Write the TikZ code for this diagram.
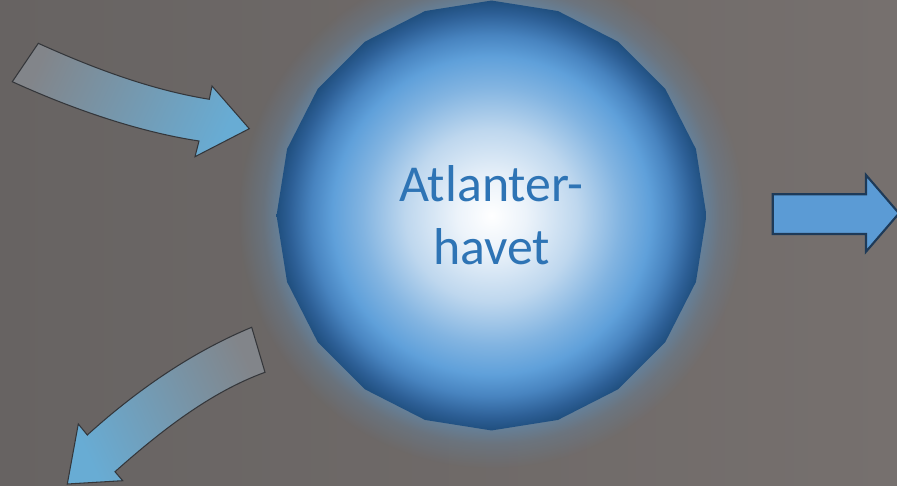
\documentclass[tikz,border=0pt]{standalone}
\usepackage{fontspec}
\setmainfont{Carlito}
\usepackage{xcolor}
\usepackage{tikz}
\usetikzlibrary{shapes,positioning,fadings}
\definecolor{backdrop_left}{RGB}{103,99,98}
\definecolor{backdrop_right}{RGB}{118,112,110}
\definecolor{halo}{RGB}{102,128,152}
\definecolor{ocean_a}{RGB}{236,243,250}
\definecolor{ocean_b}{RGB}{190,215,238}
\definecolor{ocean_c}{RGB}{130,180,225}
\definecolor{ocean_d}{RGB}{95,160,218}
\definecolor{ocean_e}{RGB}{72,132,192}
\definecolor{ocean_f}{RGB}{45,95,150}
\definecolor{ocean_g}{RGB}{31,78,125}
\definecolor{ocean_text}{RGB}{46,116,181}
\definecolor{flow_gray}{RGB}{130,133,138}
\definecolor{flow_blue}{RGB}{104,172,212}
\definecolor{flow_line}{RGB}{52,54,58}
\definecolor{out_fill}{RGB}{91,155,213}
\definecolor{out_line}{RGB}{30,58,88}
\pgfdeclareradialshading{ocean_ball}{\pgfpointorigin}{color(0bp)=(white); color(4bp)=(ocean_a); color(10bp)=(ocean_b); color(15bp)=(ocean_c); color(18.5bp)=(ocean_d); color(21bp)=(ocean_e); color(23.5bp)=(ocean_f); color(25bp)=(ocean_g); color(50bp)=(ocean_g)}
\pgfdeclareradialshading{halo_fade_shading}{\pgfpointorigin}{color(0bp)=(pgftransparent!0); color(21bp)=(pgftransparent!0); color(22.5bp)=(pgftransparent!55); color(25bp)=(pgftransparent!100); color(50bp)=(pgftransparent!100)}
\pgfdeclarefading{halo_fade}{\pgfuseshading{halo_fade_shading}}

\begin{document}
\begin{tikzpicture}[x=0.02cm, y=-0.02cm]
    \useasboundingbox (0,0) rectangle (897,486);
    \shade[left color=backdrop_left, right color=backdrop_right] (0,0) rectangle (897,486);

    \coordinate (centre) at (491.5,215.5);
    \fill[halo, path fading=halo_fade] (centre) circle (5.05cm);
    \node[shade, shading=ocean_ball, regular polygon, regular polygon sides=20, shape border rotate=9, minimum size=8.6cm, inner sep=0pt, text=ocean_text, font=\fontsize{29.5}{36}\selectfont, align=center] (atlantic) at (centre) {Atlanter-\\havet};

    \draw[flow_line, line width=0.6pt, top color=flow_gray, bottom color=flow_blue, shading angle=65]
        (38.3,43.3) .. controls (95,69) and (152,90) .. (209.3,99.3) -- (212,86) -- (249.3,128.7)
        -- (195,156.7) -- (199,141) .. controls (139,132) and (72,109) .. (12.3,81.7) -- cycle;
    \draw[flow_line, line width=0.6pt, top color=flow_gray, bottom color=flow_blue, shading angle=-65]
        (251.7,327.3) .. controls (192,352) and (137,390) .. (87.3,435) -- (78.3,424) -- (67.3,484)
        -- (122.7,480.7) -- (115,471.7) .. controls (160,431.7) and (210,392.3) .. (265,372.3) -- cycle;
    \draw[out_line, line width=1.2pt, fill=out_fill, line join=miter]
        (772.7,194.3) -- (866,194.3) -- (866,175) -- (899,213.3) -- (866,251.7) -- (866,234) -- (772.7,234) -- cycle;
\end{tikzpicture}
\end{document}
